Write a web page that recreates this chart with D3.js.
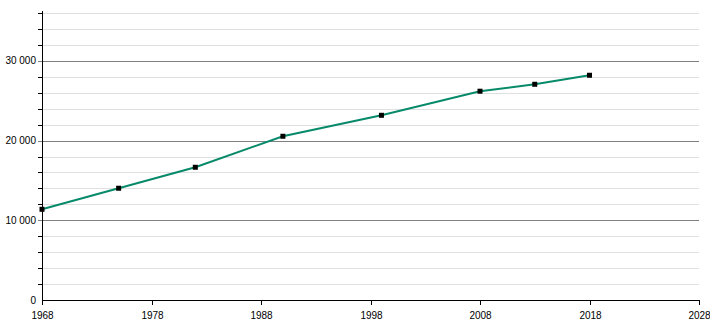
<!DOCTYPE html>
<html>
<head>
  <meta charset="UTF-8">
  <script src="https://d3js.org/d3.v7.min.js"></script>
  <style>
    body { margin:0; background:#fff; }
    text { font-family: "Liberation Sans", Arial, sans-serif; font-size: 10px; fill:#000; }
  </style>
</head>
<body>
  <svg width="710" height="320"></svg>
  <script>
    // population by census year
    var years = [1968, 1975, 1982, 1990, 1999, 2008, 2013, 2018];
    var population = [11380, 14020, 16650, 20540, 23170, 26190, 27060, 28190];
    var xTicks = [1968, 1978, 1988, 1998, 2008, 2018, 2028];
    var yMajor = [0, 10000, 20000, 30000];
    var yMinor = [2000, 4000, 6000, 8000, 12000, 14000, 16000, 18000, 22000, 24000, 26000, 28000, 32000, 34000, 36000];

    var data = years.map(function(y, i) { return { year: y, value: population[i] }; });

    var svg = d3.select("svg");
    var left = 42, right = 699, bottom = 300;

    var x = d3.scaleLinear().domain([1968, 2028]).range([left, right]);
    var y = d3.scaleLinear().domain([0, 36000]).range([bottom, 13]);

    var fmt = function(v) { return d3.format(",")(v).replace(/,/g, " "); };

    // minor grid
    svg.append("g").selectAll("line").data(yMinor).enter().append("line")
        .attr("x1", left - 4).attr("x2", right)
        .attr("y1", function(d) { return Math.round(y(d)) + 0.5; })
        .attr("y2", function(d) { return Math.round(y(d)) + 0.5; })
        .attr("stroke", "#e0e0e0");
    svg.append("g").selectAll("line").data(yMinor).enter().append("line")
        .attr("x1", left - 4).attr("x2", left)
        .attr("y1", function(d) { return Math.round(y(d)) + 0.5; })
        .attr("y2", function(d) { return Math.round(y(d)) + 0.5; })
        .attr("stroke", "#000");

    // major grid
    svg.append("g").selectAll("line").data(yMajor.slice(1)).enter().append("line")
        .attr("x1", left - 4).attr("x2", right)
        .attr("y1", function(d) { return Math.round(y(d)) + 0.5; })
        .attr("y2", function(d) { return Math.round(y(d)) + 0.5; })
        .attr("stroke", "#808080");

    svg.append("g").selectAll("text").data(yMajor).enter().append("text")
        .attr("x", left - 6)
        .attr("y", function(d) { return y(d) + 3.5; })
        .attr("text-anchor", "end")
        .text(fmt);

    // axes
    svg.append("line").attr("x1", left + 0.5).attr("x2", left + 0.5)
        .attr("y1", 11).attr("y2", bottom).attr("stroke", "#000");
    svg.append("line").attr("x1", left).attr("x2", right + 0.5)
        .attr("y1", bottom + 0.5).attr("y2", bottom + 0.5).attr("stroke", "#000");

    var xt = svg.append("g").selectAll("g").data(xTicks).enter().append("g")
        .attr("transform", function(d) { return "translate(" + (Math.round(x(d)) + 0.5) + ",0)"; });
    xt.append("line").attr("y1", bottom).attr("y2", bottom + 5).attr("stroke", "#000");
    xt.append("text").attr("y", bottom + 19).attr("text-anchor", "middle").text(function(d) { return d; });

    var line = d3.line()
        .x(function(d) { return x(d.year); })
        .y(function(d) { return y(d.value); });

    svg.append("path").datum(data)
        .attr("d", line)
        .attr("fill", "none")
        .attr("stroke", "#078a6a")
        .attr("stroke-width", 2);

    svg.append("g").selectAll("rect").data(data).enter().append("rect")
        .attr("x", function(d) { return x(d.year) - 2.5; })
        .attr("y", function(d) { return y(d.value) - 2.5; })
        .attr("width", 5).attr("height", 5)
        .attr("fill", "#000");
  </script>
</body>
</html>
